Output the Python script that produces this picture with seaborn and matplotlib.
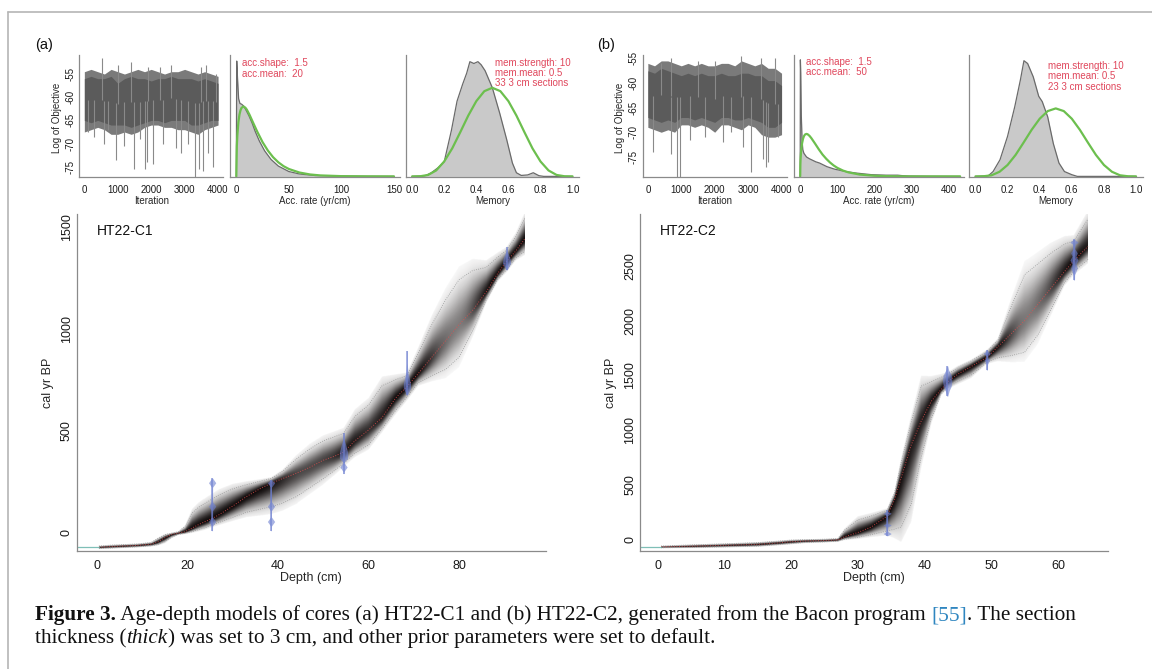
import numpy as np
import matplotlib
matplotlib.use("Agg")
import matplotlib.pyplot as plt
import seaborn as sns

sns.set_theme(style="white")
plt.rcParams['font.family'] = ['Liberation Sans', 'DejaVu Sans']
plt.rcParams['axes.unicode_minus'] = False

# ---------------- DATA ----------------
iter_x = [0, 200, 400, 600, 800, 1000, 1200, 1400, 1600, 1800, 2000, 2200, 2400, 2600, 2800, 3000, 3200, 3400, 3600, 3800, 4000]
a_outer_hi = [-54.5, -54, -54.5, -55, -54, -54.5, -55, -54.5, -54, -54.5, -54, -54.5, -55, -54.5, -54.5, -54, -54.5, -55, -54.5, -55, -55.5]
a_core_hi = [-56, -55.5, -56, -56, -55.5, -57, -56, -55.5, -56, -56, -56.5, -56, -56, -55.5, -56, -56, -56, -56.5, -56, -56.5, -57]
a_core_lo = [-65, -65.5, -65, -65.5, -66, -66, -66, -66.5, -66, -65.5, -65, -65, -65.5, -65, -65, -65, -66, -66, -65.5, -65, -65]
a_outer_lo = [-67.5, -67, -66.5, -67, -68, -68, -67.5, -68, -67.5, -66.5, -66, -66, -66.5, -66.5, -67, -67, -67.5, -68, -67, -66.5, -66]
a_spk_x = [100, 300, 520, 600, 700, 950, 1000, 1200, 1400, 1500, 1650, 1800, 1880, 1900, 2050, 2250, 2350, 2600, 2750, 2900, 3100, 3320, 3420, 3500, 3550, 3650, 3700, 3850, 3950]
a_spk_y = [-67.5, -68.5, -51.5, -70, -67, -73.5, -53, -70.5, -52.5, -75.5, -69, -75.5, -74, -53.5, -74.5, -53.5, -70, -53, -71, -72, -70, -77.5, -75.5, -53.5, -76, -53, -72, -75, -55]

b_outer_hi = [-56, -56.5, -55.5, -55.5, -56, -56.5, -56, -56.5, -56, -56.5, -56.5, -56, -56, -56.5, -55.5, -56, -56.5, -56, -57, -57, -58]
b_core_hi = [-57.5, -58, -57, -57.5, -58, -58.5, -58, -58.5, -58, -58.5, -58.5, -58, -58.5, -58.5, -58, -58, -58.5, -58.5, -59.5, -59.5, -60.5]
b_core_lo = [-67, -67.5, -68, -67.5, -68, -67, -67, -67.5, -67, -67.5, -68, -67, -67, -67.5, -67.5, -67, -67.5, -68, -69, -69, -68]
b_outer_lo = [-69, -69.5, -70, -69.5, -70, -68.5, -68.5, -69, -68.5, -69, -70, -68.5, -68.5, -69, -69.5, -68.5, -69, -70.5, -71, -71, -70.5]
b_spk_x = [150, 400, 680, 700, 880, 950, 1250, 1500, 1700, 2000, 2250, 2500, 2800, 2850, 3100, 3400, 3450, 3520, 3580, 3800, 3900]
b_spk_y = [-74, -56, -55, -74.5, -79.5, -79.5, -71.5, -55.5, -71, -55.5, -72, -70, -54.5, -73, -78, -55, -75.5, -77, -76, -55, -71]

# accumulation rate (relative density heights)
acc_a_x = [0, 0.4, 1.2, 2.2, 3.5, 5, 7, 9, 12, 15, 18, 22, 27, 33, 40, 50, 60, 75, 100, 125, 150]
acc_a_post = [0, 0.95, 0.80, 0.64, 0.60, 0.595, 0.58, 0.55, 0.50, 0.44, 0.37, 0.29, 0.21, 0.14, 0.085, 0.04, 0.02, 0.007, 0.002, 0.0005, 0]
acc_a_px = [0, 0.5, 1, 2, 3, 4, 5, 6.7, 8.5, 10, 12.5, 15, 17.5, 20, 25, 30, 35, 40, 45, 50, 60, 70, 80, 100, 125, 150]
acc_a_prior = [0, 0.25, 0.341, 0.448, 0.509, 0.545, 0.565, 0.576, 0.567, 0.55, 0.509, 0.461, 0.414, 0.367, 0.282, 0.213, 0.158, 0.116, 0.084, 0.061, 0.032, 0.016, 0.008, 0.002, 0.0005, 0]

acc_b_x = [0, 0.5, 1.5, 3, 5, 7, 10, 17, 25, 42, 52, 72, 92, 122, 152, 192, 230, 262, 275, 292, 350, 430]
acc_b_post = [0, 0.96, 0.85, 0.5, 0.3, 0.22, 0.19, 0.16, 0.145, 0.12, 0.11, 0.08, 0.06, 0.04, 0.027, 0.014, 0.01, 0.01, 0.006, 0.003, 0.001, 0]
acc_b_px = [0, 0.5, 1, 2, 3, 5, 7.5, 10, 13, 16.7, 20, 25, 30, 40, 50, 60, 70, 80, 90, 100, 115, 130, 160, 200, 250, 300, 430]
acc_b_prior = [0, 0.1, 0.14, 0.19, 0.224, 0.272, 0.309, 0.331, 0.345, 0.35, 0.347, 0.334, 0.315, 0.27, 0.223, 0.18, 0.145, 0.115, 0.09, 0.07, 0.048, 0.033, 0.015, 0.005, 0.001, 0, 0]

# memory
mem_a_x = [0, 0.08, 0.12, 0.16, 0.20, 0.245, 0.28, 0.315, 0.34, 0.36, 0.385, 0.41, 0.43, 0.455, 0.5, 0.546, 0.59, 0.625, 0.65, 0.68, 0.72, 0.755, 0.79, 0.82, 1.0]
mem_a_post = [0, 0.005, 0.03, 0.07, 0.12, 0.38, 0.62, 0.76, 0.85, 0.945, 0.93, 0.945, 0.92, 0.87, 0.73, 0.52, 0.30, 0.11, 0.03, 0.008, 0.012, 0.03, 0.006, 0, 0]
mem_b_x = [0, 0.08, 0.11, 0.153, 0.2, 0.245, 0.28, 0.302, 0.325, 0.36, 0.394, 0.416, 0.45, 0.485, 0.52, 0.554, 0.6, 0.634, 1.0]
mem_b_post = [0, 0.005, 0.04, 0.137, 0.33, 0.575, 0.795, 0.953, 0.93, 0.82, 0.66, 0.616, 0.49, 0.27, 0.11, 0.04, 0.014, 0, 0]
mem_px = [0, 0.05, 0.1, 0.15, 0.2, 0.25, 0.3, 0.35, 0.4, 0.45, 0.5, 0.55, 0.6, 0.65, 0.7, 0.75, 0.8, 0.85, 0.9, 0.95, 1.0]
mem_a_prior = [0, 0.001, 0.012, 0.049, 0.123, 0.231, 0.364, 0.501, 0.62, 0.702, 0.73, 0.702, 0.62, 0.501, 0.364, 0.231, 0.123, 0.049, 0.012, 0.001, 0]
mem_b_prior = [0, 0.001, 0.009, 0.038, 0.094, 0.177, 0.279, 0.384, 0.475, 0.538, 0.56, 0.538, 0.475, 0.384, 0.279, 0.177, 0.094, 0.038, 0.009, 0.001, 0]

# age-depth model HT22-C1
c1_depth = [0.5, 3, 6, 9, 12, 13.5, 15, 16.5, 18, 19.5, 21, 22.5, 24, 25.5, 27, 30, 33, 36, 38.5, 41, 44, 47, 50, 52.5, 54.5, 57, 60, 63, 66, 68.5, 71, 74, 77, 80, 83, 86, 88.5, 90.5, 92.5, 94.5]
c1_mean = [-71, -68, -65, -62, -56, -45, -25, -8, -2, 5, 22, 40, 55, 70, 88, 130, 176, 215, 242, 265, 291, 320, 355, 375, 395, 450, 503, 565, 660, 716, 780, 860, 940, 1020, 1090, 1180, 1270, 1330, 1380, 1440]
c1_lo = [-77, -75, -72, -69, -64, -58, -45, -22, -8, -3, 5, 15, 25, 38, 50, 75, 100, 115, 127, 145, 176, 220, 265, 305, 340, 390, 430, 510, 600, 665, 735, 770, 800, 860, 990, 1140, 1240, 1290, 1345, 1380]
c1_hi = [-65, -61, -58, -55, -48, -28, -10, -2, 5, 30, 95, 125, 145, 165, 185, 215, 235, 252, 266, 300, 360, 410, 450, 470, 487, 570, 625, 720, 750, 770, 880, 1020, 1140, 1240, 1285, 1300, 1350, 1385, 1450, 1540]
c1_date_depth = [25.5, 38.5, 54.5, 68.5, 90.5]
c1_date_ages = [[10, 33, 55, 77, 108, 130, 152, 223, 245, 268],
                [10, 33, 55, 77, 108, 130, 152, 223, 245, 260],
                [290, 300, 322, 344, 350, 365, 395, 430, 460, 490],
                [675, 690, 710, 730, 760, 790, 830, 892],
                [1288, 1300, 1320, 1340, 1360, 1380, 1402]]
c1_date_hw = [[0.08, 0.1, 0.8, 0.1, 0.1, 0.8, 0.1, 0.1, 0.8, 0.08],
              [0.08, 0.1, 0.8, 0.1, 0.1, 0.8, 0.1, 0.1, 0.8, 0.08],
              [0.08, 0.1, 0.8, 0.1, 0.3, 0.9, 0.9, 0.5, 0.1, 0.08],
              [0.08, 0.4, 0.8, 0.8, 0.5, 0.2, 0.08, 0.08],
              [0.08, 0.4, 0.9, 0.8, 0.5, 0.1, 0.08]]

# age-depth model HT22-C2
c2_depth = [0.5, 5, 10, 15, 18, 20, 22, 25, 27, 28, 30, 32, 34.4, 35.5, 36.5, 38, 39.5, 41, 42.5, 43.5, 45, 47, 49.4, 51, 53, 55, 57, 59, 61, 62.4, 64.5]
c2_mean = [-72, -66, -58, -49, -36, -25, -18, -14, -8, 20, 60, 110, 210, 360, 560, 860, 1080, 1260, 1370, 1440, 1510, 1580, 1665, 1760, 1880, 2000, 2150, 2300, 2450, 2550, 2680]
c2_lo = [-80, -78, -72, -65, -52, -42, -32, -26, -20, -2, 15, 40, 75, 90, 110, 320, 750, 1100, 1330, 1390, 1440, 1500, 1620, 1660, 1680, 1710, 1870, 2110, 2350, 2450, 2560]
c2_hi = [-64, -54, -44, -33, -20, -10, -6, -2, 4, 80, 175, 210, 265, 420, 700, 1070, 1400, 1440, 1480, 1510, 1570, 1630, 1720, 1820, 2130, 2420, 2520, 2620, 2700, 2730, 2930]
c2_date_depth = [34.4, 43.4, 49.35, 62.4]
c2_date_ages = [[30, 50, 70, 110, 128, 146, 215, 235, 255, 266],
                [1309, 1360, 1400, 1450, 1500, 1550, 1584],
                [1548, 1600, 1640, 1660, 1680, 1700, 1720, 1731],
                [2372, 2420, 2480, 2520, 2555, 2590, 2620, 2660, 2700, 2717, 2745]]
c2_date_hw = [[0.08, 0.6, 0.08, 0.08, 0.6, 0.08, 0.08, 0.6, 0.08, 0.08],
              [0.08, 0.3, 0.6, 0.7, 0.6, 0.2, 0.08],
              [0.08, 0.1, 0.4, 0.15, 0.15, 0.55, 0.15, 0.08],
              [0.08, 0.1, 0.5, 0.3, 0.6, 0.3, 0.5, 0.1, 0.2, 0.6, 0.08]]
surface_age = -72

# ---------------- FIGURE ----------------
W, H = 1152, 669
fig = plt.figure(figsize=(W / 100, H / 100), dpi=100)
fig.patch.set_facecolor('white')

SP = '#8a8a8a'
RED = '#e0475c'
GREEN = '#6cbf4e'


def add_ax(x0, y0, x1, y1):
    return fig.add_axes([x0 / W, 1 - y1 / H, (x1 - x0) / W, (y1 - y0) / H])


def ftext(x, y, s, **kw):
    return fig.text(x / W, 1 - y / H, s, **kw)


def style(ax, fs, ticklen):
    ax.set_facecolor('white')
    for s in ['top', 'right']:
        ax.spines[s].set_visible(False)
    for s in ['left', 'bottom']:
        ax.spines[s].set_color(SP)
        ax.spines[s].set_linewidth(0.9)
    ax.tick_params(axis='both', which='both', direction='out', length=ticklen, width=0.8,
                   color=SP, labelsize=fs, labelcolor='#1a1a1a', pad=2)
    ax.grid(False)


def rot_ylabels(ax, pad):
    ax.tick_params(axis='y', pad=pad)
    for lab in ax.get_yticklabels():
        lab.set_rotation(90)
        lab.set_rotation_mode('anchor')
        lab.set_ha('center')
        lab.set_va('baseline')


def trace_panel(x0, ylim, ylab_x, ohi, chi, clo, olo, sx, sy):
    ax = add_ax(x0, 55, x0 + 144.4, 177)
    style(ax, 7, 3.5)
    ax.fill_between(iter_x, olo, ohi, color='#7a7a7a', lw=0)
    ax.fill_between(iter_x, clo, chi, color='#5b5b5b', lw=0)
    mid = [(a + b) / 2 for a, b in zip(clo, chi)]
    base = np.interp(sx, iter_x, mid)
    ax.vlines(sx, base, sy, color='#8a8a8a', lw=0.8)
    ax.set_xlim(-160, 4160)
    ax.set_ylim(*ylim)
    ax.set_xticks([0, 1000, 2000, 3000, 4000])
    ax.set_yticks([-55, -60, -65, -70, -75])
    rot_ylabels(ax, 0.5)
    ax.set_xlabel('Iteration', fontsize=7, labelpad=1)
    ax.set_ylabel('')
    ftext(ylab_x, 118, 'Log of Objective', rotation=90, ha='center', va='center', fontsize=7)
    return ax


def dens_panel(x0, x1, xlim, xt, px, py, gx, gy, xlabel):
    ax = add_ax(x0, 55, x1, 177)
    style(ax, 7, 3.5)
    ax.fill_between(px, 0, py, color='#c9c9c9', lw=0)
    sns.lineplot(x=px, y=py, ax=ax, color='#6a6a6a', lw=0.9, estimator=None, sort=False)
    sns.lineplot(x=gx, y=gy, ax=ax, color=GREEN, lw=1.6, estimator=None, sort=False)
    ax.set_xlim(*xlim)
    ax.set_ylim(-0.005, 1.0)
    ax.set_xticks(xt)
    ax.set_yticks([])
    ax.set_xlabel(xlabel, fontsize=7, labelpad=1)
    ax.set_ylabel('')
    return ax


def draw_cloud(ax, d, m, lo, hi, ylim, sx, sy, K=26.0):
    d = np.asarray(d, float); m = np.asarray(m, float)
    lo = np.asarray(lo, float); hi = np.asarray(hi, float)
    xs = np.linspace(d[0], d[-1], 900)
    ys = np.linspace(ylim[0], ylim[1], 1000)
    M = np.interp(xs, d, m); L = np.interp(xs, d, lo); U = np.interp(xs, d, hi)
    slopes = np.diff(m) / np.diff(d)
    idx = np.clip(np.searchsorted(d, xs) - 1, 0, len(d) - 2)
    s = slopes[idx] * sy / sx
    cosang = 1.0 / np.sqrt(1 + s ** 2)
    wp = np.maximum((U - L) * sy * cosang, 1.0)
    A = np.clip(K / wp, 0.35, 1.0)
    k = 25
    A = np.convolve(np.pad(A, k, mode='edge'), np.ones(2 * k + 1) / (2 * k + 1), mode='same')[k:-k]
    Y = ys[:, None]
    up = np.maximum(U - M, 1e-6)[None, :]
    dn = np.maximum(M - L, 1e-6)[None, :]
    t = np.where(Y >= M[None, :], (Y - M[None, :]) / up, (M[None, :] - Y) / dn)
    val = A[None, :] * np.exp(-1.7 * t ** 2)
    val[t > 1.3] = 0
    rgba = np.zeros((len(ys), len(xs), 4))
    rgba[..., 0] = 0.07; rgba[..., 1] = 0.05; rgba[..., 2] = 0.05
    rgba[..., 3] = np.clip(val, 0, 1)
    ax.imshow(rgba, extent=(xs[0], xs[-1], ys[0], ys[-1]), origin='lower', aspect='auto',
              interpolation='bilinear', zorder=1)
    sns.lineplot(x=d, y=lo, ax=ax, color='#9a9a9a', lw=0.6, ls=':', estimator=None, sort=False, zorder=2)
    sns.lineplot(x=d, y=hi, ax=ax, color='#9a9a9a', lw=0.6, ls=':', estimator=None, sort=False, zorder=2)
    sns.lineplot(x=d, y=m, ax=ax, color='#e05050', lw=0.7, ls=':', alpha=0.8, estimator=None, sort=False, zorder=2)


def draw_dates(ax, depths, ages, hws):
    for dd, ag, hw in zip(depths, ages, hws):
        ag = np.asarray(ag, float); hw = np.asarray(hw, float)
        ax.fill_betweenx(ag, dd - hw, dd + hw, color='#6d7fd0', alpha=0.6, lw=0, zorder=3)
        ax.vlines(dd, ag.min(), ag.max(), color='#6d7fd0', alpha=0.7, lw=1.2, zorder=3)


def agedepth_panel(x0, x1, xlim, ylim, xt, yt, name, d, m, lo, hi, dd, da, dh):
    ax = add_ax(x0, 214, x1, 550.7)
    style(ax, 9, 4.5)
    sx = (x1 - x0) / (xlim[1] - xlim[0])
    sy = (550.7 - 214) / (ylim[1] - ylim[0])
    draw_cloud(ax, d, m, lo, hi, ylim, sx, sy)
    draw_dates(ax, dd, da, dh)
    sns.lineplot(x=[xlim[0], d[0]], y=[surface_age, surface_age], ax=ax, color='#5fb0a5',
                 lw=0.9, alpha=0.8, estimator=None, sort=False)
    ax.set_xlim(*xlim)
    ax.set_ylim(*ylim)
    ax.set_xticks(xt)
    ax.set_yticks(yt)
    rot_ylabels(ax, 0.5)
    ax.set_xlabel('Depth (cm)', fontsize=9, labelpad=0)
    ax.set_ylabel('cal yr BP', fontsize=9, labelpad=5)
    ax.text(0.043, 0.95, name, transform=ax.transAxes, fontsize=10, ha='left', va='center', color='#111')
    return ax


# ---- panel (a) ----
trace_panel(79, (-77.2, -50.9), 57, a_outer_hi, a_core_hi, a_core_lo, a_outer_lo, a_spk_x, a_spk_y)
dens_panel(230, 400.3, (-6, 156), [0, 50, 100, 150], acc_a_x, acc_a_post, acc_a_px, acc_a_prior, 'Acc. rate (yr/cm)')
dens_panel(405.7, 579, (-0.04, 1.04), [0, 0.2, 0.4, 0.6, 0.8, 1.0], mem_a_x, mem_a_post, mem_px, mem_a_prior, 'Memory')
agedepth_panel(76.7, 546, (-4.4, 99.2), (-88, 1562), [0, 20, 40, 60, 80], [0, 500, 1000, 1500], 'HT22-C1',
               c1_depth, c1_mean, c1_lo, c1_hi, c1_date_depth, c1_date_ages, c1_date_hw)

# ---- panel (b) ----
trace_panel(642.5, (-79.1, -54.3), 620, b_outer_hi, b_core_hi, b_core_lo, b_outer_lo, b_spk_x, b_spk_y)
dens_panel(793.5, 963.5, (-18, 439), [0, 100, 200, 300, 400], acc_b_x, acc_b_post, acc_b_px, acc_b_prior, 'Acc. rate (yr/cm)')
dens_panel(969, 1142.5, (-0.04, 1.04), [0, 0.2, 0.4, 0.6, 0.8, 1.0], mem_b_x, mem_b_post, mem_px, mem_b_prior, 'Memory')
agedepth_panel(640, 1108, (-2.65, 67.5), (-107, 2976), [0, 10, 20, 30, 40, 50, 60], [0, 500, 1000, 1500, 2000, 2500], 'HT22-C2',
               c2_depth, c2_mean, c2_lo, c2_hi, c2_date_depth, c2_date_ages, c2_date_hw)

for ax in fig.axes:
    if ax.get_xlabel() == 'Memory':
        ax.set_xticklabels(['0.0', '0.2', '0.4', '0.6', '0.8', '1.0'])

# red annotation text
tkw = dict(fontsize=7, color=RED, ha='left', va='center')
ftext(242, 63.3, 'acc.shape:  1.5', **tkw)
ftext(242, 74, 'acc.mean:  20', **tkw)
ftext(495, 62.7, 'mem.strength: 10', **tkw)
ftext(495, 72.7, 'mem.mean: 0.5', **tkw)
ftext(495, 82.7, '33 3 cm sections', **tkw)
ftext(805.7, 62.3, 'acc.shape:  1.5', **tkw)
ftext(805.7, 72.3, 'acc.mean:  50', **tkw)
ftext(1048, 66, 'mem.strength: 10', **tkw)
ftext(1048, 76, 'mem.mean: 0.5', **tkw)
ftext(1048, 86.7, '23 3 cm sections', **tkw)

ftext(35, 45, '(a)', fontsize=10.5, ha='left', va='center', color='#111')
ftext(597, 45, '(b)', fontsize=10.5, ha='left', va='center', color='#111')

# frame lines
fig.add_artist(plt.Line2D([8 / W, 1], [1 - 12 / H, 1 - 12 / H], transform=fig.transFigure, color='#b5b5b5', lw=1.2))
fig.add_artist(plt.Line2D([8 / W, 8 / W], [1 - 12 / H, 0], transform=fig.transFigure, color='#b5b5b5', lw=1.2))

# caption
renderer = fig.canvas.get_renderer()
SERIF = ['Liberation Serif', 'DejaVu Serif']


def draw_runs(runs, x, y, size):
    for txt, weight, fstyle, color in runs:
        t = ftext(x, y, txt, fontsize=size, fontweight=weight, fontstyle=fstyle, color=color,
                  family=SERIF, ha='left', va='baseline')
        bb = t.get_window_extent(renderer)
        x += bb.width
    return x


line1 = [('Figure 3.', 'bold', 'normal', '#111'),
         (' Age-depth models of cores (a) HT22-C1 and (b) HT22-C2, generated from the Bacon program ', 'normal', 'normal', '#111'),
         ('[55]', 'normal', 'normal', '#2f86c0'),
         ('. The section', 'normal', 'normal', '#111')]
line2 = [('thickness (', 'normal', 'normal', '#111'),
         ('thick', 'normal', 'italic', '#111'),
         (') was set to 3 cm, and other prior parameters were set to default.', 'normal', 'normal', '#111')]

tmp = []
xe = 35
probe = 12.0
for txt, weight, fstyle, color in line1:
    t = fig.text(0, 0, txt, fontsize=probe, fontweight=weight, fontstyle=fstyle, family=SERIF)
    xe += t.get_window_extent(renderer).width
    tmp.append(t)
for t in tmp:
    t.remove()
size = probe * (1077 - 35) / (xe - 35)
draw_runs(line1, 35, 620, size)
draw_runs(line2, 35, 643, size)

fig.savefig('out.png', dpi=100, facecolor='white')
